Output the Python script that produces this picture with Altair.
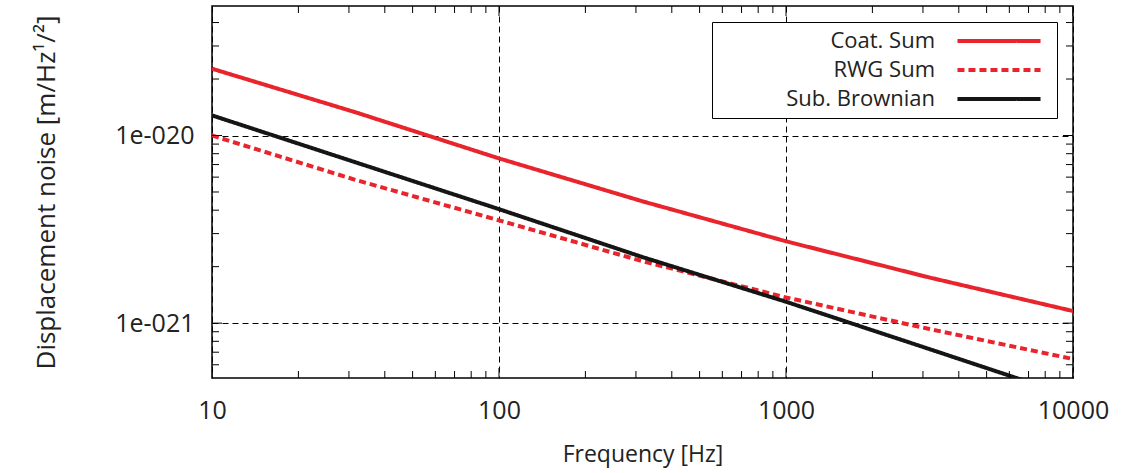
import altair as alt
import pandas as pd

# ---- data ----
freq = [10, 31.6, 100, 316, 1000, 3162, 10000]
coat_sum = [2.27e-20, 1.33e-20, 7.55e-21, 4.46e-21, 2.73e-21, 1.75e-21, 1.16e-21]
rwg_sum = [1.0e-20, 5.8e-21, 3.53e-21, 2.14e-21, 1.37e-21, 9.3e-22, 6.44e-22]
sub_brownian = [1.28e-20, 7.2e-21, 4.05e-21, 2.25e-21, 1.30e-21, 7.27e-22, 4.05e-22]
series_names = ["Coat. Sum", "RWG Sum", "Sub. Brownian"]

x_major = [10, 100, 1000, 10000]
x_minor = [20, 30, 40, 50, 60, 70, 80, 90,
           200, 300, 400, 500, 600, 700, 800, 900,
           2000, 3000, 4000, 5000, 6000, 7000, 8000, 9000]
y_major = [1e-21, 1e-20]
y_minor = [6e-22, 7e-22, 8e-22, 9e-22,
           2e-21, 3e-21, 4e-21, 5e-21, 6e-21, 7e-21, 8e-21, 9e-21,
           2e-20, 3e-20, 4e-20]

x_domain = [10, 10000]
y_domain = [5.1e-22, 4.9e-20]

rows = []
for name, vals in zip(series_names, [coat_sum, rwg_sum, sub_brownian]):
    for f, v in zip(freq, vals):
        rows.append({"freq": f, "value": v, "series": name})
df = pd.DataFrame(rows)

FONT = "Open Sans"
RED = "#e8242c"
BLACK = "#151515"
TXT = "#222222"

xscale = alt.Scale(type="log", domain=x_domain, nice=False)
yscale = alt.Scale(type="log", domain=y_domain, nice=False)

MAJ = 10
MIN = 7

xa_main = alt.Axis(values=x_major, domain=False, ticks=False,
                   grid=True, gridColor="black", gridDash=[6, 4], gridWidth=1,
                   format="d", labelFlush=False, labelPadding=20,
                   labelFont=FONT, labelFontSize=25, labelColor=TXT,
                   title="Frequency [Hz]", titlePadding=20,
                   titleFont=FONT, titleFontSize=23, titleFontWeight="normal",
                   titleColor=TXT)
ya_main = alt.Axis(values=y_major, domain=False, ticks=False,
                   grid=True, gridColor="black", gridDash=[6, 4], gridWidth=1,
                   labelExpr="'1e-0' + format(round(-log(datum.value)/LN10), 'd')",
                   labelFlush=False, labelPadding=18,
                   labelFont=FONT, labelFontSize=25, labelColor=TXT,
                   title="Displacement noise [m/Hz¹/²]", titlePadding=55,
                   titleFont=FONT, titleFontSize=26, titleFontWeight="normal",
                   titleColor=TXT)

color = alt.Color("series:N", scale=alt.Scale(domain=series_names,
                  range=[RED, RED, BLACK]),
                  legend=alt.Legend(title=None, orient="top-right", offset=16,
                                    fillColor="white", strokeColor="black",
                                    padding=8, symbolType="M-5,0L5,0",
                                    symbolSize=276, symbolStrokeWidth=4,
                                    labelFont=FONT, labelFontSize=22,
                                    labelColor=TXT, labelAlign="right",
                                    symbolOffset=268,
                                    labelOffset={"expr": "-75"},
                                    labelLimit=400, rowPadding=7))
dash = alt.StrokeDash("series:N", scale=alt.Scale(domain=series_names,
                      range=[[1, 0], [7, 4], [1, 0]]), legend=None)

lines = alt.Chart(df).mark_line(clip=True, strokeWidth=4).encode(
    x=alt.X("freq:Q", scale=xscale, axis=xa_main),
    y=alt.Y("value:Q", scale=yscale, axis=ya_main),
    color=color,
    strokeDash=dash,
)

xt_major = pd.DataFrame({"freq": x_major})
xt_minor = pd.DataFrame({"freq": x_minor})
yt_major = pd.DataFrame({"value": y_major})
yt_minor = pd.DataFrame({"value": y_minor})


def xticks(data, size, edge):
    return alt.Chart(data).mark_tick(orient="vertical", size=2 * size,
                                     thickness=1, color="black", clip=True,
                                     opacity=1).encode(
        x=alt.X("freq:Q", scale=xscale),
        y=alt.YDatum(edge),
    )


def yticks(data, size, edge):
    return alt.Chart(data).mark_tick(orient="horizontal", size=2 * size,
                                     thickness=1, color="black", clip=True,
                                     opacity=1).encode(
        y=alt.Y("value:Q", scale=yscale),
        x=alt.XDatum(edge),
    )


tick_layers = [
    xticks(xt_major, MAJ, y_domain[0]), xticks(xt_major, MAJ, y_domain[1]),
    xticks(xt_minor, MIN, y_domain[0]), xticks(xt_minor, MIN, y_domain[1]),
    yticks(yt_major, MAJ, x_domain[0]), yticks(yt_major, MAJ, x_domain[1]),
    yticks(yt_minor, MIN, x_domain[0]), yticks(yt_minor, MIN, x_domain[1]),
]

chart = alt.layer(lines, *tick_layers).properties(
    width=861, height=372,
    autosize=alt.AutoSizeParams(type="none"),
    padding={"left": 212, "top": 6, "right": 62, "bottom": 95},
    background="white",
).configure_view(stroke="black", strokeWidth=1.5)

chart.save("out.html", embed_options={"renderer": "svg", "actions": False})
